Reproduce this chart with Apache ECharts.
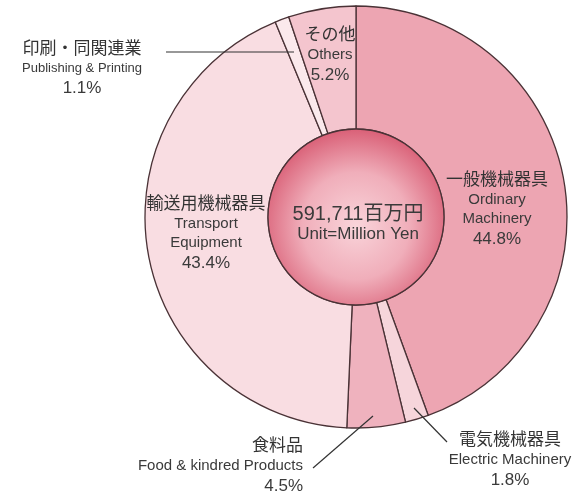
<!DOCTYPE html>
<html>
<head>
<meta charset="utf-8">
<script src="https://cdn.jsdelivr.net/npm/echarts@6/dist/echarts.min.js"></script>
<style>
  html, body { margin: 0; padding: 0; background: #fff; }
  #main { width: 585px; height: 493px; }
</style>
</head>
<body>
<div id="main"></div>
<script>
// data
const namesJa = ['一般機械器具', '電気機械器具', '食料品', '輸送用機械器具', '印刷・同関連業', 'その他'];
const namesEn = ['Ordinary\nMachinery', 'Electric Machinery', 'Food & kindred Products', 'Transport\nEquipment', 'Publishing & Printing', 'Others'];
const shares = [44.8, 1.8, 4.5, 43.4, 1.1, 5.2];
const totalValue = 591711;
const unitText = 'Unit=Million Yen';

// styling
const sliceColors = ['#EDA5B2', '#F6D5DB', '#EFB2BE', '#F9DDE2', '#FBE9EC', '#F4C5CE'];
// label anchor (x, y, align), english text size and leader line for outside labels
const labelPos = [
  { x: 497, y: 210, align: 'center', en: 'en' },
  { x: 510, y: 461, align: 'center', en: 'en', line: [[447, 442], [414, 408]] },
  { x: 303, y: 467, align: 'right', en: 'en', line: [[313, 468], [373, 416]] },
  { x: 206, y: 234, align: 'center', en: 'en' },
  { x: 82, y: 69, align: 'center', en: 'ens', line: [[166, 52], [294, 52]] },
  { x: 330, y: 56, align: 'center', en: 'en' }
];
const textFont = '"Liberation Sans", "Noto Sans CJK JP", sans-serif';

const chart = echarts.init(document.getElementById('main'));

const ringData = shares.map((v, i) => ({
  name: namesJa[i],
  value: v,
  itemStyle: { color: sliceColors[i] }
}));

// leader lines drawn on top of the ring
const leaderLines = labelPos.filter(lp => lp.line).map(lp => ({
  type: 'line',
  silent: true,
  z: 100,
  shape: { x1: lp.line[0][0], y1: lp.line[0][1], x2: lp.line[1][0], y2: lp.line[1][1] },
  style: { stroke: '#333', lineWidth: 1.2 }
}));

chart.setOption({
  animation: false,
  graphic: leaderLines,
  series: [
    {
      type: 'pie',
      center: [356, 217],
      radius: [88, 211],
      startAngle: 90,
      clockwise: true,
      silent: true,
      avoidLabelOverlap: false,
      itemStyle: { borderColor: '#4a3236', borderWidth: 1.3 },
      label: {
        show: true,
        position: 'outside',
        overflow: 'none',
        color: '#333',
        fontFamily: textFont,
        formatter: function (p) {
          const i = p.dataIndex;
          const st = labelPos[i].en;
          return '{ja|' + namesJa[i] + '}\n' +
            namesEn[i].split('\n').map(s => '{' + st + '|' + s + '}').join('\n') +
            '\n{pct|' + shares[i].toFixed(1) + '%}';
        },
        rich: {
          ja: { fontSize: 17, lineHeight: 20, color: '#333', fontFamily: textFont },
          en: { fontSize: 15, lineHeight: 19, color: '#3a3a3a', fontFamily: textFont },
          ens: { fontSize: 13, lineHeight: 18, color: '#3a3a3a', fontFamily: textFont },
          pct: { fontSize: 17, lineHeight: 22, color: '#3a3a3a', fontFamily: textFont }
        }
      },
      labelLine: { show: false },
      labelLayout: function (params) {
        const lp = labelPos[params.dataIndex];
        return { x: lp.x, y: lp.y, align: lp.align, verticalAlign: 'middle', hideOverlap: false };
      },
      data: ringData
    },
    {
      type: 'pie',
      center: [356, 217],
      radius: [0, 88],
      silent: true,
      itemStyle: {
        borderColor: '#4a3236',
        borderWidth: 1.3,
        color: new echarts.graphic.RadialGradient(0.5, 0.55, 0.55, [
          { offset: 0, color: '#F9D4DA' },
          { offset: 0.55, color: '#F0AEBA' },
          { offset: 1, color: '#D95F76' }
        ])
      },
      label: {
        show: true,
        position: 'center',
        overflow: 'none',
        formatter: function (p) {
          return '{big|' + p.value.toLocaleString('en-US') + '百万円}\n{small|' + unitText + '}';
        },
        rich: {
          big: { fontSize: 20, lineHeight: 21, color: '#3a3a3a', fontFamily: textFont },
          small: { fontSize: 17, lineHeight: 19, color: '#3a3a3a', fontFamily: textFont }
        }
      },
      labelLine: { show: false },
      labelLayout: function () {
        return { x: 358, y: 224, align: 'center', verticalAlign: 'middle' };
      },
      data: [{ name: 'total', value: totalValue }]
    }
  ]
});
</script>
</body>
</html>
